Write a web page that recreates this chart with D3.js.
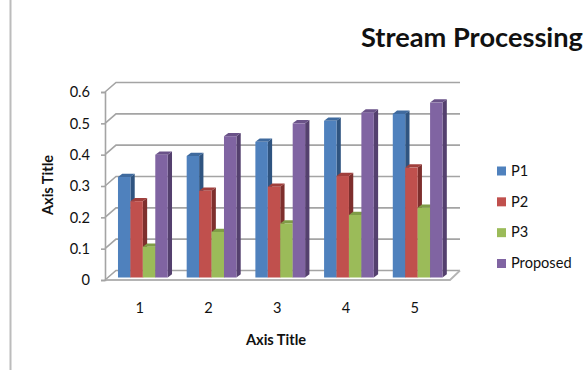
<!DOCTYPE html>
<html>
<head>
<meta charset="utf-8">
<script src="https://cdnjs.cloudflare.com/ajax/libs/d3/7.8.5/d3.min.js"></script>
<style>
html,body{margin:0;padding:0;background:#fff;}
svg{display:block;}
text{font-family:Lato,"Open Sans",sans-serif;fill:#111;}
</style>
</head>
<body>
<script>
const categories = ["1","2","3","4","5"];
const seriesNames = ["P1","P2","P3","Proposed"];
const p1 = [0.32,0.387,0.432,0.499,0.521];
const p2 = [0.243,0.276,0.289,0.323,0.35];
const p3 = [0.098,0.145,0.172,0.199,0.222];
const proposed = [0.391,0.45,0.491,0.525,0.557];
const seriesValues = [p1,p2,p3,proposed];
const yTicks = [0,0.1,0.2,0.3,0.4,0.5,0.6];
const faceColors = ["#4f81bd","#c0504d","#9bbb59","#8064a2"];
const sideColors = ["#2f5480","#7e2f2d","#66803a","#54406e"];
const topColors = ["#3f6a9e","#a03f3c","#7f9c47","#6a5288"];

const width = 584, height = 370;
const svg = d3.select("body").append("svg").attr("width",width).attr("height",height);

// Separator rule down the left of the page
svg.append("rect").attr("x",9.5).attr("y",0).attr("width",2).attr("height",370).attr("fill","#bcbcbc");

// Axis plane and bar plane share a slope; the wall sits behind them by wall offset
const axisY = d3.scaleLinear().domain([0,0.6]).range([280,92]);
const barY = d3.scaleLinear().domain([0,0.6]).range([277.5,89.1]);
const x0 = d3.scaleBand().domain(categories).range([108.5,452]).paddingInner(0.276).paddingOuter(0.138);
const x1 = d3.scaleBand().domain(seriesNames).range([0,x0.bandwidth()]);
const wallDx = 11, wallDy = -9.5, depthX = 4.3, depthY = 3.3;
const frontLeft = 105, frontRight = 450;
const gridColor = "#a4a4a4";
const labelSize = "14.6px";

// Back wall gridlines and the diagonals that join them to the axis
const grid = svg.append("g").attr("fill","none").attr("stroke",gridColor).attr("stroke-width",1.6);
yTicks.forEach(t=>{
  const y = axisY(t);
  grid.append("path").attr("d",`M${frontLeft},${y}L${frontLeft+wallDx},${y+wallDy}L${frontRight+wallDx-1},${y+wallDy}`);
});

// Floor front edge and right diagonal
grid.append("path").attr("stroke","#b4b4b4").attr("stroke-width",1.8)
  .attr("d",`M${frontLeft},${axisY(0)}L${frontRight},${axisY(0)}L${frontRight+wallDx-1},${axisY(0)+wallDy}`);

// Value axis
const yAxis = d3.axisLeft(axisY).tickValues(yTicks).tickSize(4).tickPadding(11)
  .tickFormat(d=>d===0?"0":d3.format(".1f")(d));
const gy = svg.append("g").attr("transform",`translate(${frontLeft},0)`).call(yAxis);
gy.selectAll("path,line").attr("stroke",gridColor).attr("stroke-width",1.6);
gy.selectAll("text").style("font-size",labelSize).attr("fill","#111");

// Bars: each is a front face, a top face and a side face
seriesNames.forEach((name,si)=>{
  const g = svg.append("g");
  seriesValues[si].forEach((v,ci)=>{
    const left = x0(categories[ci])+x1(name), right = left+x1.bandwidth();
    const top = barY(v), base = barY(0);
    g.append("path").attr("fill",sideColors[si])
      .attr("d",`M${right},${top}L${right+depthX},${top-depthY}L${right+depthX},${base-depthY}L${right},${base}Z`);
    g.append("path").attr("fill",topColors[si])
      .attr("d",`M${left},${top}L${left+depthX},${top-depthY}L${right+depthX},${top-depthY}L${right},${top}Z`);
    g.append("rect").attr("x",left).attr("y",top).attr("width",right-left).attr("height",base-top).attr("fill",faceColors[si]);
  });
});

// Category labels
svg.append("g").selectAll("text").data(categories).join("text")
  .attr("x",d=>x0(d)+x0.bandwidth()/2-3).attr("y",313)
  .attr("text-anchor","middle").style("font-size",labelSize).text(d=>d);

// Titles
svg.append("text").attr("x",361).attr("y",47).style("font-size","27px").style("font-weight","700")
  .attr("textLength",222).attr("lengthAdjust","spacingAndGlyphs").text("Stream Processing");
svg.append("text").attr("x",276).attr("y",345).attr("text-anchor","middle")
  .style("font-size",labelSize).style("font-weight","700").text("Axis Title");
svg.append("text").attr("transform","translate(53,185) rotate(-90)").attr("text-anchor","middle")
  .style("font-size",labelSize).style("font-weight","700").text("Axis Title");

// Legend
const legendY = d3.scalePoint().domain(seriesNames).range([171,263.5]);
const legend = svg.append("g").selectAll("g").data(seriesNames).join("g")
  .attr("transform",d=>`translate(497,${legendY(d)})`);
legend.append("rect").attr("y",-4.5).attr("width",9).attr("height",9).attr("fill",(d,i)=>faceColors[i]);
legend.append("text").attr("x",14).attr("y",4.8).style("font-size",labelSize).text(d=>d);
</script>
</body>
</html>
